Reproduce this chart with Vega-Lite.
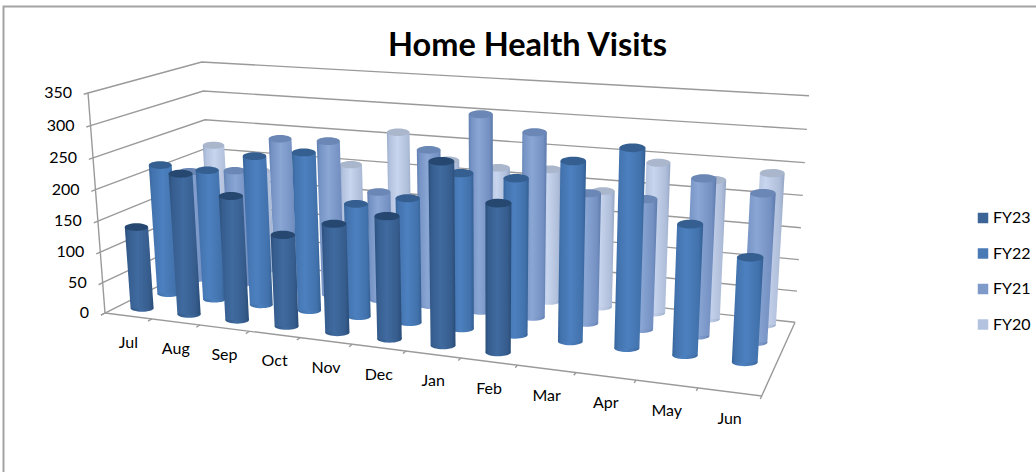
{
"$schema":"https://vega.github.io/schema/vega-lite/v6.json",
"width":1036,"height":472,"padding":0,"autosize":{"type":"none"},"background":"white",
"title":{"text":"Home Health Visits","font":"Lato","fontSize":32.5,"fontWeight":"bold","color":"#000000","anchor":"middle","dx":9.5,"dy":66},
"config":{"view":{"stroke":null}},
"datasets":{
"visits":[
{"month":"Jul","series":"FY23","visits":134},{"month":"Aug","series":"FY23","visits":226},{"month":"Sep","series":"FY23","visits":198},{"month":"Oct","series":"FY23","visits":145},{"month":"Nov","series":"FY23","visits":170},{"month":"Dec","series":"FY23","visits":189},{"month":"Jan","series":"FY23","visits":277},{"month":"Feb","series":"FY23","visits":223},
{"month":"Jul","series":"FY22","visits":216},{"month":"Aug","series":"FY22","visits":214},{"month":"Sep","series":"FY22","visits":243},{"month":"Oct","series":"FY22","visits":255},{"month":"Nov","series":"FY22","visits":181},{"month":"Dec","series":"FY22","visits":197},{"month":"Jan","series":"FY22","visits":242},{"month":"Feb","series":"FY22","visits":241},{"month":"Mar","series":"FY22","visits":273},{"month":"Apr","series":"FY22","visits":298},{"month":"May","series":"FY22","visits":195},{"month":"Jun","series":"FY22","visits":155},
{"month":"Jul","series":"FY21","visits":186},{"month":"Aug","series":"FY21","visits":194},{"month":"Sep","series":"FY21","visits":253},{"month":"Oct","series":"FY21","visits":255},{"month":"Nov","series":"FY21","visits":179},{"month":"Dec","series":"FY21","visits":253},{"month":"Jan","series":"FY21","visits":314},{"month":"Feb","series":"FY21","visits":292},{"month":"Mar","series":"FY21","visits":205},{"month":"Apr","series":"FY21","visits":203},{"month":"May","series":"FY21","visits":241},{"month":"Jun","series":"FY21","visits":226},
{"month":"Jul","series":"FY20","visits":214},{"month":"Aug","series":"FY20","visits":176},{"month":"Sep","series":"FY20","visits":186},{"month":"Oct","series":"FY20","visits":199},{"month":"Nov","series":"FY20","visits":259},{"month":"Dec","series":"FY20","visits":219},{"month":"Jan","series":"FY20","visits":213},{"month":"Feb","series":"FY20","visits":217},{"month":"Mar","series":"FY20","visits":189},{"month":"Apr","series":"FY20","visits":240},{"month":"May","series":"FY20","visits":220},{"month":"Jun","series":"FY20","visits":237}
],
"months":[{"month":"Jul","i":0},{"month":"Aug","i":1},{"month":"Sep","i":2},{"month":"Oct","i":3},{"month":"Nov","i":4},{"month":"Dec","i":5},{"month":"Jan","i":6},{"month":"Feb","i":7},{"month":"Mar","i":8},{"month":"Apr","i":9},{"month":"May","i":10},{"month":"Jun","i":11},{"month":"","i":12}],
"levels":[{"level":0},{"level":50},{"level":100},{"level":150},{"level":200},{"level":250},{"level":300},{"level":350}]
},
"encoding":{
"x":{"field":"px","type":"quantitative","axis":null,"scale":{"domain":[0,1036],"nice":false,"zero":false}},
"y":{"field":"py","type":"quantitative","axis":null,"scale":{"domain":[0,472],"nice":false,"zero":false,"reverse":true}}
},
"layer":[
{"data":{"values":[{"corner":"a"},{"corner":"b"},{"corner":"c"}]},
"transform":[{"calculate":"datum.corner=='c'?1036:3.5","as":"px"},{"calculate":"datum.corner=='a'?472:6.5","as":"py"}],
"mark":{"type":"line","stroke":"#a3a3a3","strokeWidth":2},"encoding":{"order":{"field":"corner"}}},
{"data":{"name":"levels"},
"transform":[{"calculate":"datum.level/350","as":"t"},{"fold":["a","b","c","d"],"as":["corner","unused"]},
{"calculate":"datum.corner=='d'?1:0","as":"u"},
{"calculate":"datum.corner=='a'?-0.035:datum.corner=='b'?0:1","as":"v"},
{"calculate":"1-0.1545*datum.u+0.125*datum.v-0.0423*datum.t","as":"w"},
{"calculate":"(539*datum.u+127.6*datum.v+105-20.7*datum.t)/datum.w+(datum.corner=='c'?6:0)","as":"px"},
{"calculate":"(21.8*datum.u-22*datum.v+313-223.9*datum.t)/datum.w","as":"py"}],
"mark":{"type":"line","stroke":"#9a9a9a","strokeWidth":1.4,"clip":false},
"encoding":{"detail":{"field":"level"},"order":{"field":"corner"}}},
{"data":{"values":[{"edge":"left","p":0},{"edge":"left","p":1}]},
"transform":[{"calculate":"datum.p","as":"t"},
{"calculate":"1-0.0423*datum.t","as":"w"},
{"calculate":"(105-20.7*datum.t)/datum.w","as":"px"},
{"calculate":"(313-223.9*datum.t)/datum.w","as":"py"}],
"mark":{"type":"line","stroke":"#9a9a9a","strokeWidth":1.4}},
{"data":{"values":[{"p":"a"},{"p":"b"},{"p":"c"}]},
"transform":[{"calculate":"datum.p=='a'?0:1","as":"u"},{"calculate":"datum.p=='c'?1:0","as":"v"},
{"calculate":"1-0.1545*datum.u+0.125*datum.v","as":"w"},
{"calculate":"(539*datum.u+127.6*datum.v+105)/datum.w","as":"px"},
{"calculate":"(21.8*datum.u-22*datum.v+313)/datum.w","as":"py"}],
"mark":{"type":"line","stroke":"#9a9a9a","strokeWidth":1.4},"encoding":{"order":{"field":"p"}}},
{"data":{"name":"months"},
"transform":[{"calculate":"datum.i/12","as":"u"},{"fold":["a","b"],"as":["end","unused"]},
{"calculate":"datum.end=='a'?0:-0.035","as":"v"},
{"calculate":"1-0.1545*datum.u+0.125*datum.v","as":"w"},
{"calculate":"(539*datum.u+127.6*datum.v+105)/datum.w","as":"px"},
{"calculate":"(21.8*datum.u-22*datum.v+313)/datum.w","as":"py"}],
"mark":{"type":"line","stroke":"#9a9a9a","strokeWidth":1.4},"encoding":{"detail":{"field":"i"}}},
{"data":{"name":"levels"},
"transform":[{"calculate":"datum.level/350","as":"t"},
{"calculate":"1-0.0423*datum.t","as":"w"},
{"calculate":"(105-20.7*datum.t)/datum.w-16","as":"px"},
{"calculate":"(313-223.9*datum.t)/datum.w","as":"py"}],
"mark":{"type":"text","font":"Lato","fontSize":16,"align":"right","baseline":"middle","color":"#000000"},
"encoding":{"text":{"field":"level","type":"quantitative"}}},
{"data":{"name":"months"},
"transform":[{"filter":"datum.i<12"},{"calculate":"(datum.i+0.5)/12","as":"u"},
{"calculate":"1-0.1545*datum.u","as":"w"},
{"calculate":"(539*datum.u+105)/datum.w","as":"px"},
{"calculate":"(21.8*datum.u+313)/datum.w+27","as":"py"}],
"mark":{"type":"text","font":"Lato","fontSize":16,"align":"center","baseline":"middle","color":"#000000"},
"encoding":{"text":{"field":"month","type":"nominal"}}},
{"data":{"name":"visits"},
"transform":[
{"calculate":"(indexof(['Jul','Aug','Sep','Oct','Nov','Dec','Jan','Feb','Mar','Apr','May','Jun'],datum.month)+0.5)/12","as":"u"},
{"calculate":"[0.125,0.375,0.65,0.91][indexof(['FY23','FY22','FY21','FY20'],datum.series)]","as":"v"},
{"calculate":"datum.visits/350","as":"tt"},
{"fold":["base","top"],"as":["end","unused"]},
{"calculate":"datum.end=='top'?datum.tt:0","as":"t"},
{"calculate":"1-0.1545*datum.u+0.125*datum.v-0.0423*datum.t","as":"w"},
{"calculate":"(539*datum.u+127.6*datum.v+105-20.7*datum.t)/datum.w","as":"cx"},
{"calculate":"(21.8*datum.u-22*datum.v+313-223.9*datum.t)/datum.w","as":"py"},
{"calculate":"11.6/datum.w","as":"half"},
{"calculate":"datum.cx-datum.half","as":"px"},
{"calculate":"datum.cx+datum.half","as":"px2"},
{"calculate":"pow(2*datum.half,2)","as":"sz"}
],
"layer":[
{"mark":{"type":"point","filled":true,"opacity":0},"encoding":{"x":{"field":"cx","type":"quantitative"},
"color":{"field":"series","type":"nominal","scale":{"domain":["FY23","FY22","FY21","FY20"],"range":["#3c6496","#4a7ab5","#7e9ac8","#b3c3df"]},
"legend":{"orient":"none","legendX":975,"legendY":210,"title":null,"symbolType":"square","symbolSize":110,"symbolOpacity":1,"symbolStrokeWidth":0,"labelFont":"Lato","labelFontSize":16,"labelColor":"#000000","rowPadding":19.5,"labelOffset":2}}}},

{"transform":[{"filter":"datum.series=='FY20'&&datum.end=='base'"}],"mark":{"type":"point","filled":true,"opacity":1,"strokeWidth":0,"shape":"M -1 0 A 1 0.3 0 1 1 1 0 A 1 0.3 0 1 1 -1 0 Z","fill":{"x1":0,"y1":0,"x2":1,"y2":0,"gradient":"linear","stops":[{"offset":0,"color":"#9cadcb"},{"offset":0.12,"color":"#b3c2de"},{"offset":0.42,"color":"#c8d5ee"},{"offset":0.85,"color":"#aebdd9"},{"offset":1,"color":"#94a5c4"}]}},"encoding":{"x":{"field":"cx","type":"quantitative"},"size":{"field":"sz","type":"quantitative","scale":null}}},
{"transform":[{"filter":"datum.series=='FY20'"}],"mark":{"type":"area","orient":"horizontal","fill":{"x1":0,"y1":0,"x2":1,"y2":0,"gradient":"linear","stops":[{"offset":0,"color":"#9cadcb"},{"offset":0.12,"color":"#b3c2de"},{"offset":0.42,"color":"#c8d5ee"},{"offset":0.85,"color":"#aebdd9"},{"offset":1,"color":"#94a5c4"}]}},"encoding":{"x2":{"field":"px2"},"detail":{"field":"month"}}},
{"transform":[{"filter":"datum.series=='FY20'&&datum.end=='top'"}],"mark":{"type":"point","filled":true,"opacity":1,"strokeWidth":0,"shape":"M -1 0 A 1 0.33 0 1 1 1 0 A 1 0.33 0 1 1 -1 0 Z","fill":"#a9b6cc"},"encoding":{"x":{"field":"cx","type":"quantitative"},"size":{"field":"sz","type":"quantitative","scale":null}}},

{"transform":[{"filter":"datum.series=='FY21'&&datum.end=='base'"}],"mark":{"type":"point","filled":true,"opacity":1,"strokeWidth":0,"shape":"M -1 0 A 1 0.3 0 1 1 1 0 A 1 0.3 0 1 1 -1 0 Z","fill":{"x1":0,"y1":0,"x2":1,"y2":0,"gradient":"linear","stops":[{"offset":0,"color":"#617fb0"},{"offset":0.12,"color":"#7593c4"},{"offset":0.42,"color":"#8aa6d4"},{"offset":0.85,"color":"#7490c2"},{"offset":1,"color":"#5c7aab"}]}},"encoding":{"x":{"field":"cx","type":"quantitative"},"size":{"field":"sz","type":"quantitative","scale":null}}},
{"transform":[{"filter":"datum.series=='FY21'"}],"mark":{"type":"area","orient":"horizontal","fill":{"x1":0,"y1":0,"x2":1,"y2":0,"gradient":"linear","stops":[{"offset":0,"color":"#617fb0"},{"offset":0.12,"color":"#7593c4"},{"offset":0.42,"color":"#8aa6d4"},{"offset":0.85,"color":"#7490c2"},{"offset":1,"color":"#5c7aab"}]}},"encoding":{"x2":{"field":"px2"},"detail":{"field":"month"}}},
{"transform":[{"filter":"datum.series=='FY21'&&datum.end=='top'"}],"mark":{"type":"point","filled":true,"opacity":1,"strokeWidth":0,"shape":"M -1 0 A 1 0.33 0 1 1 1 0 A 1 0.33 0 1 1 -1 0 Z","fill":"#6a87b5"},"encoding":{"x":{"field":"cx","type":"quantitative"},"size":{"field":"sz","type":"quantitative","scale":null}}},

{"transform":[{"filter":"datum.series=='FY22'&&datum.end=='base'"}],"mark":{"type":"point","filled":true,"opacity":1,"strokeWidth":0,"shape":"M -1 0 A 1 0.3 0 1 1 1 0 A 1 0.3 0 1 1 -1 0 Z","fill":{"x1":0,"y1":0,"x2":1,"y2":0,"gradient":"linear","stops":[{"offset":0,"color":"#36649a"},{"offset":0.12,"color":"#4373ae"},{"offset":0.45,"color":"#4c80bf"},{"offset":0.85,"color":"#4272ac"},{"offset":1,"color":"#335e92"}]}},"encoding":{"x":{"field":"cx","type":"quantitative"},"size":{"field":"sz","type":"quantitative","scale":null}}},
{"transform":[{"filter":"datum.series=='FY22'"}],"mark":{"type":"area","orient":"horizontal","fill":{"x1":0,"y1":0,"x2":1,"y2":0,"gradient":"linear","stops":[{"offset":0,"color":"#36649a"},{"offset":0.12,"color":"#4373ae"},{"offset":0.45,"color":"#4c80bf"},{"offset":0.85,"color":"#4272ac"},{"offset":1,"color":"#335e92"}]}},"encoding":{"x2":{"field":"px2"},"detail":{"field":"month"}}},
{"transform":[{"filter":"datum.series=='FY22'&&datum.end=='top'"}],"mark":{"type":"point","filled":true,"opacity":1,"strokeWidth":0,"shape":"M -1 0 A 1 0.33 0 1 1 1 0 A 1 0.33 0 1 1 -1 0 Z","fill":"#355f91"},"encoding":{"x":{"field":"cx","type":"quantitative"},"size":{"field":"sz","type":"quantitative","scale":null}}},

{"transform":[{"filter":"datum.series=='FY23'&&datum.end=='base'"}],"mark":{"type":"point","filled":true,"opacity":1,"strokeWidth":0,"shape":"M -1 0 A 1 0.3 0 1 1 1 0 A 1 0.3 0 1 1 -1 0 Z","fill":{"x1":0,"y1":0,"x2":1,"y2":0,"gradient":"linear","stops":[{"offset":0,"color":"#2a4f7b"},{"offset":0.12,"color":"#365d8e"},{"offset":0.45,"color":"#406ba0"},{"offset":0.85,"color":"#365c8c"},{"offset":1,"color":"#284c77"}]}},"encoding":{"x":{"field":"cx","type":"quantitative"},"size":{"field":"sz","type":"quantitative","scale":null}}},
{"transform":[{"filter":"datum.series=='FY23'"}],"mark":{"type":"area","orient":"horizontal","fill":{"x1":0,"y1":0,"x2":1,"y2":0,"gradient":"linear","stops":[{"offset":0,"color":"#2a4f7b"},{"offset":0.12,"color":"#365d8e"},{"offset":0.45,"color":"#406ba0"},{"offset":0.85,"color":"#365c8c"},{"offset":1,"color":"#284c77"}]}},"encoding":{"x2":{"field":"px2"},"detail":{"field":"month"}}},
{"transform":[{"filter":"datum.series=='FY23'&&datum.end=='top'"}],"mark":{"type":"point","filled":true,"opacity":1,"strokeWidth":0,"shape":"M -1 0 A 1 0.33 0 1 1 1 0 A 1 0.33 0 1 1 -1 0 Z","fill":"#264870"},"encoding":{"x":{"field":"cx","type":"quantitative"},"size":{"field":"sz","type":"quantitative","scale":null}}}
]}
]}
